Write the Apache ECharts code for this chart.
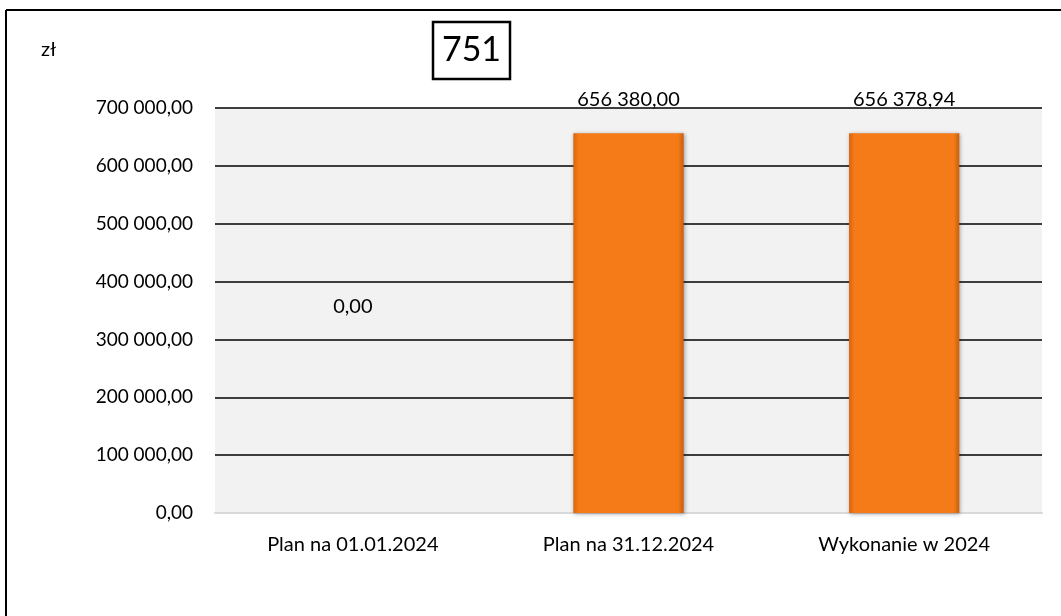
<!DOCTYPE html>
<html>
<head>
<meta charset="utf-8">
<script src="https://cdn.jsdelivr.net/npm/echarts@6/dist/echarts.min.js"></script>
<style>
html,body{margin:0;padding:0;background:#fff;}
#chart{width:1061px;height:616px;}
</style>
</head>
<body>
<div id="chart"></div>
<script>
const categories = ['Plan na 01.01.2024', 'Plan na 31.12.2024', 'Wykonanie w 2024'];
const values = [0, 656380.00, 656378.94];
const chartTitle = '751';
const unitLabel = 'zł';
const yMin = 0, yMax = 700000, yStep = 100000;

function fmt(v) {
  const parts = v.toFixed(2).split('.');
  const intPart = parts[0].replace(/\B(?=(\d{3})+(?!\d))/g, ' ');
  return intPart + ',' + parts[1];
}

const FONT = 'Lato';
const chart = echarts.init(document.getElementById('chart'));

const barData = values.map(v => v === 0
  ? { value: v, label: { offset: [0, -172] } }
  : { value: v });

chart.setOption({
  animation: false,
  backgroundColor: '#ffffff',
  textStyle: { fontFamily: FONT },
  grid: {
    left: 215, right: 19, top: 108, bottom: 103,
    show: true, backgroundColor: '#f2f2f2', borderWidth: 0
  },
  xAxis: {
    type: 'category',
    data: categories,
    axisLine: { show: true, lineStyle: { color: '#d9d9d9', width: 2 } },
    axisTick: { show: false },
    axisLabel: { color: '#000', fontSize: 20, fontFamily: FONT, margin: 22 },
    splitLine: { show: false }
  },
  yAxis: {
    type: 'value',
    min: yMin, max: yMax, interval: yStep,
    axisLine: { show: false },
    axisTick: { show: false },
    axisLabel: { color: '#000', fontSize: 19, fontFamily: FONT, margin: 22, formatter: v => fmt(v) },
    splitLine: { show: true, showMinLine: false, lineStyle: { color: '#000', width: 1.5 } }
  },
  series: [{
    type: 'bar',
    data: barData,
    barWidth: '40%',
    itemStyle: {
      color: {
        type: 'linear', x: 0, y: 0, x2: 1, y2: 0,
        colorStops: [
          { offset: 0, color: '#d8660e' },
          { offset: 0.05, color: '#f47b17' },
          { offset: 0.95, color: '#f47b17' },
          { offset: 1, color: '#c95e0c' }
        ]
      },
      borderWidth: 0,
      shadowColor: 'rgba(0,0,0,0.35)',
      shadowBlur: 4,
      shadowOffsetX: 1,
      shadowOffsetY: 1
    },
    label: {
      show: true,
      position: 'top',
      distance: 24,
      color: '#000',
      fontSize: 20,
      fontFamily: FONT,
      formatter: p => fmt(p.value)
    }
  }],
  graphic: [
    { type: 'line', shape: { x1: 6, y1: 10, x2: 1061, y2: 10 }, style: { stroke: '#000', lineWidth: 2 } },
    { type: 'line', shape: { x1: 6, y1: 10, x2: 6, y2: 616 }, style: { stroke: '#000', lineWidth: 2 } },
    { type: 'rect', shape: { x: 433, y: 22, width: 77, height: 57 }, style: { fill: '#fff', stroke: '#000', lineWidth: 2.5 } },
    { type: 'text', x: 471.5, y: 50.5, style: { text: chartTitle, font: '34px ' + FONT, fill: '#000', align: 'center', verticalAlign: 'middle' } },
    { type: 'text', x: 41, y: 50, style: { text: unitLabel, font: '20px ' + FONT, fill: '#000', align: 'left', verticalAlign: 'middle' } }
  ]
});
</script>
</body>
</html>
